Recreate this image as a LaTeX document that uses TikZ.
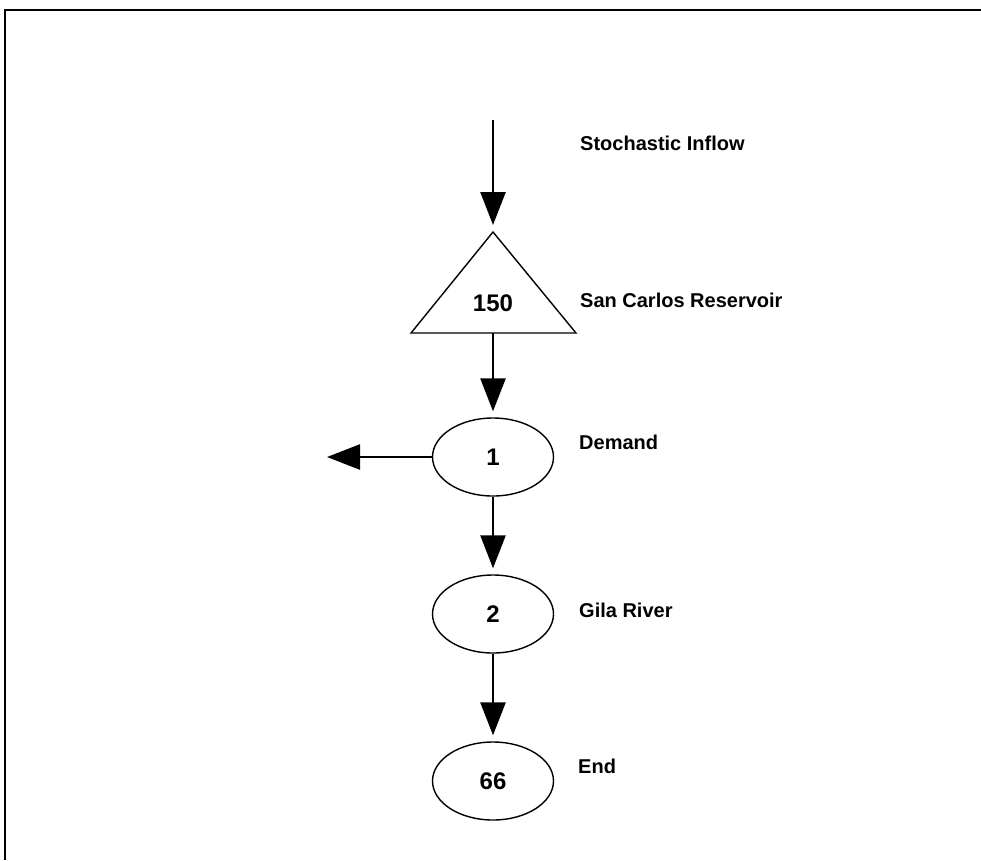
\documentclass[tikz,border=0pt]{standalone}
\usepackage{fontspec}
\setmainfont{Liberation Sans}
\usetikzlibrary{arrows.meta,shapes.geometric}
\begin{document}
\begin{tikzpicture}[x=1pt,y=-1pt,
  flow/.style={line width=2.5pt, -{Triangle[width=25pt,length=33pt]}, shorten >=6pt},
  junction/.style={ellipse, draw, line width=1.4pt, minimum width=121pt, minimum height=78pt, inner sep=0pt, font=\bfseries\fontsize{24}{24}\selectfont},
  numlbl/.style={font=\bfseries\fontsize{24}{24}\selectfont, inner sep=0pt},
  lbl/.style={anchor=west, font=\bfseries\fontsize{20}{20}\selectfont, inner sep=0pt}]
\useasboundingbox (0,0) rectangle (981,860);
% frame (top and left edges)
\coordinate (fbl) at (5,860);
\coordinate (ftl) at (5,10);
\coordinate (ftr) at (981,10);
\draw[line width=2.5pt] (fbl) -- (ftl) -- (ftr);
% reservoir triangle
\coordinate (apex) at (493,232);
\coordinate (bl) at (411,333);
\coordinate (br) at (576,333);
\coordinate (base) at (493,333);
\draw[line width=1.4pt, line join=miter] (apex) -- (br) -- (bl) -- cycle;
\node[numlbl] (res) at (493,303) {150};
% junction nodes
\node[junction] (n1) at (493,457) {1};
\node[junction] (n2) at (493,614) {2};
\node[junction] (n66) at (493,781) {66};
% inflow and demand free ends
\coordinate (src) at (493,120);
\coordinate (out) at (327,457);
% connectors
\draw[flow, shorten >=7pt] (src) -- (apex);
\draw[flow] (base) -- (n1);
\draw[flow, shorten >=0pt] (n1) -- (out);
\draw[flow] (n1) -- (n2);
\draw[flow] (n2) -- (n66);
% labels
\node[lbl] (tin) at (580,143) {Stochastic Inflow};
\node[lbl] (tres) at (580,300) {San Carlos Reservoir};
\node[lbl] (tdem) at (579,442) {Demand};
\node[lbl] (tgila) at (579,610) {Gila River};
\node[lbl] (tend) at (578,766) {End};
\end{tikzpicture}
\end{document}
